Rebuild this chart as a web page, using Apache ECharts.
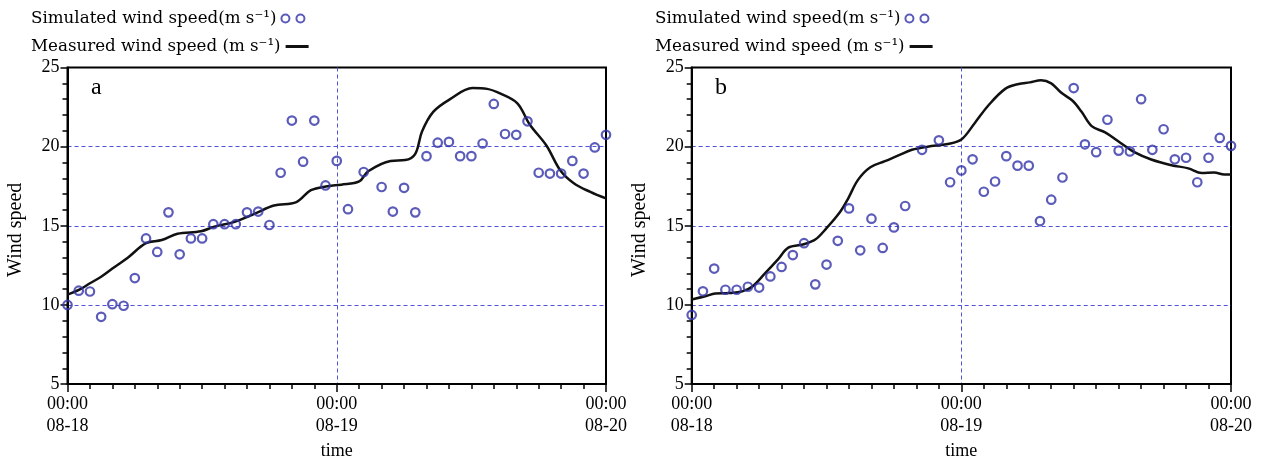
<!DOCTYPE html>
<html><head><meta charset="utf-8">
<script src="https://cdn.jsdelivr.net/npm/echarts@6/dist/echarts.min.js"></script>
<style>html,body{margin:0;padding:0;background:#fff}#c{width:1266px;height:465px}</style>
</head><body><div id="c"></div>
<script>
// ---- data ----
const xTickLabels = {0:'00:00\n08-18', 24:'00:00\n08-19', 48:'00:00\n08-20'};
const yTickValues = [5,10,15,20,25];
const panelLabels = ['a','b'];
const simName = 'Simulated wind speed(m s\u207B\u00B9)';
const measName = 'Measured wind speed (m s\u207B\u00B9)';

// panel a: simulated (hours from 08-18 00:00, m/s)
const simHoursA = [0,1,2,3,4,5,6,7,8,9,10,11,12,13,14,15,16,17,18,19,20,21,22,23,24,25,26.4,28,29,30,31,32,33,34,35,36,37,38,39,40,41,42,43,44,45,46,47,48];
const simA = [10.0,10.9,10.85,9.25,10.05,9.95,11.7,14.2,13.35,15.85,13.2,14.2,14.2,15.1,15.1,15.1,15.85,15.9,15.05,18.35,21.65,19.05,21.65,17.55,19.1,16.05,18.4,17.45,15.9,17.4,15.85,19.4,20.25,20.3,19.4,19.4,20.2,22.7,20.8,20.75,21.6,18.35,18.3,18.3,19.1,18.3,19.95,20.75];
// panel a: measured
const measHoursA = [0,1.1,2,3,4.2,5.4,7,8.4,9.8,11.9,13.1,14.9,16.7,18.4,20.4,21.7,23.2,24.4,26,26.8,28.8,30.1,31,31.6,32.6,34.1,36.1,37.4,38.6,40.1,41.2,42.7,43.9,45.1,46.6,48];
const measA = [10.65,10.98,11.37,11.78,12.4,13.0,13.9,14.1,14.5,14.65,14.95,15.25,15.77,16.28,16.5,17.25,17.5,17.6,17.8,18.45,19.1,19.15,19.55,20.96,22.2,23.0,23.7,23.65,23.35,22.74,21.4,20.06,18.53,17.71,17.14,16.73];

// panel b: simulated
const simHoursB = [0,1,2,3,4,5,6,7,8,9,10,11,12,13,14,15,16,17,18,19,20.5,22,23,24,25,26,27,28,29,30,31,32,33,34,35,36,37,38,39,40,41,42,43,44,45,46,47,48];
const simB = [9.37,10.86,12.3,10.96,10.96,11.15,11.1,11.8,12.4,13.15,13.9,11.3,12.55,14.05,16.1,13.45,15.45,13.6,14.9,16.25,19.8,20.4,17.75,18.5,19.2,17.15,17.8,19.4,18.8,18.8,15.3,16.65,18.05,23.7,20.15,19.65,21.7,19.75,19.7,23.0,19.8,21.1,19.2,19.3,17.75,19.3,20.55,20.05];
// panel b: measured
const measHoursB = [0,1.2,2.1,3.3,4.5,5.4,6.5,7.7,8.6,9.9,11,12,13.2,13.9,14.8,15.9,17.2,18.4,19.6,21,22.8,24,25.2,26.4,27.9,29.1,30.1,31.1,32,32.9,33.9,34.7,35.6,36.8,37.9,39.4,40.9,42.7,44.2,45.4,46.5,47.4,48];
const measB = [10.35,10.55,10.72,10.75,10.86,11.17,11.98,12.9,13.62,13.82,14.13,14.85,15.87,16.69,17.9,18.7,19.08,19.45,19.8,20.0,20.17,20.45,21.5,22.6,23.65,23.96,24.06,24.2,24.0,23.4,22.9,22.2,21.3,20.9,20.37,19.65,19.19,18.83,18.63,18.33,18.36,18.24,18.24];

// ---- chart ----
const FONT = 'Liberation Serif';
const LEGEND_FONT = 'DejaVu Serif';
const BLUE = '#3232a8';
const DASH = '#5252d8';
const zip = (a, b) => a.map((v, i) => [v, b[i]]);

const grids = [
  {left: 67.5, right: 660, top: 67.5, bottom: 75.5},
  {left: 691.7, right: 35, top: 67.5, bottom: 75.5}
];

function xAxisFor(i) {
  return {
    gridIndex: i, type: 'value', min: 0, max: 48, interval: 24,
    name: 'time', nameLocation: 'middle', nameGap: 55,
    nameTextStyle: {fontFamily: FONT, fontSize: 18, color: '#000'},
    axisLine: {show: true, onZero: false, lineStyle: {color: '#000', width: 2}},
    axisTick: {show: true, length: 8, lineStyle: {color: '#000', width: 1.5}},
    minorTick: {show: true, splitNumber: 12, length: 5, lineStyle: {color: '#000', width: 1.5}},
    splitLine: {show: true, showMinLine: false, showMaxLine: false, lineStyle: {color: DASH, type: [4, 3], width: 1}},
    axisLabel: {fontFamily: FONT, fontSize: 18, color: '#000', lineHeight: 22, margin: 9,
      formatter: v => xTickLabels[v] !== undefined ? xTickLabels[v] : ''}
  };
}
function yAxisFor(i) {
  return {
    gridIndex: i, type: 'value', min: yTickValues[0], max: yTickValues[yTickValues.length - 1], interval: 5,
    name: 'Wind speed', nameLocation: 'middle', nameGap: 42,
    nameTextStyle: {fontFamily: FONT, fontSize: 20, color: '#000', padding: [0, 8, 0, 0]},
    axisLine: {show: true, onZero: false, lineStyle: {color: '#000', width: 2}},
    axisTick: {show: true, length: 7, lineStyle: {color: '#000', width: 1.5}},
    minorTick: {show: true, splitNumber: 5, length: 5, lineStyle: {color: '#000', width: 1.5}},
    splitLine: {show: true, showMinLine: false, showMaxLine: false, lineStyle: {color: DASH, type: [4, 3], width: 1}},
    axisLabel: {fontFamily: FONT, fontSize: 18, color: '#000', margin: 8}
  };
}

const ringIcon = 'path://M4,0A4,4,0,1,1,4,8A4,4,0,1,1,4,0ZM19,0A4,4,0,1,1,19,8A4,4,0,1,1,19,0Z';
const lineIcon = 'path://M0,0H20V2.6H0Z';

function legendItem(left, top, name, icon) {
  return {
    left: left, top: top, padding: 0, orient: 'horizontal', align: 'right',
    itemWidth: 23, itemHeight: 8, textGap: 8,
    textStyle: {fontFamily: LEGEND_FONT, fontSize: 16.7, color: '#000'},
    selectedMode: false,
    data: [{name: name, icon: icon}]
  };
}

function seriesFor(i, simH, sim, measH, meas) {
  return [
    {name: measName, type: 'line', xAxisIndex: i, yAxisIndex: i, data: zip(measH, meas),
      smooth: 0.35, symbol: 'none', lineStyle: {color: '#111', width: 2.5}, itemStyle: {color: '#111'}, z: 3},
    {name: simName, type: 'scatter', xAxisIndex: i, yAxisIndex: i, data: zip(simH, sim),
      symbol: 'circle', symbolSize: 8.5,
      itemStyle: {color: 'rgba(255,255,255,0)', borderColor: BLUE, borderWidth: 2.2}, z: 4}
  ];
}

const chart = echarts.init(document.getElementById('c'), null, {renderer: 'canvas'});
chart.setOption({
  animation: false,
  backgroundColor: '#fff',
  title: [
    {text: panelLabels[0], left: 91, top: 76, padding: 0, textStyle: {fontFamily: FONT, fontSize: 24, fontWeight: 'normal', color: '#000'}},
    {text: panelLabels[1], left: 715, top: 76, padding: 0, textStyle: {fontFamily: FONT, fontSize: 24, fontWeight: 'normal', color: '#000'}}
  ],
  legend: [
    legendItem(31, 10, simName, ringIcon), legendItem(31, 38, measName, lineIcon),
    legendItem(655, 10, simName, ringIcon), legendItem(655, 38, measName, lineIcon)
  ],
  grid: grids.map(g => Object.assign({show: true, borderColor: '#000', borderWidth: 2, backgroundColor: 'transparent'}, g)),
  xAxis: [xAxisFor(0), xAxisFor(1)],
  yAxis: [yAxisFor(0), yAxisFor(1)],
  series: [].concat(seriesFor(0, simHoursA, simA, measHoursA, measA), seriesFor(1, simHoursB, simB, measHoursB, measB))
});
</script>
</body></html>
